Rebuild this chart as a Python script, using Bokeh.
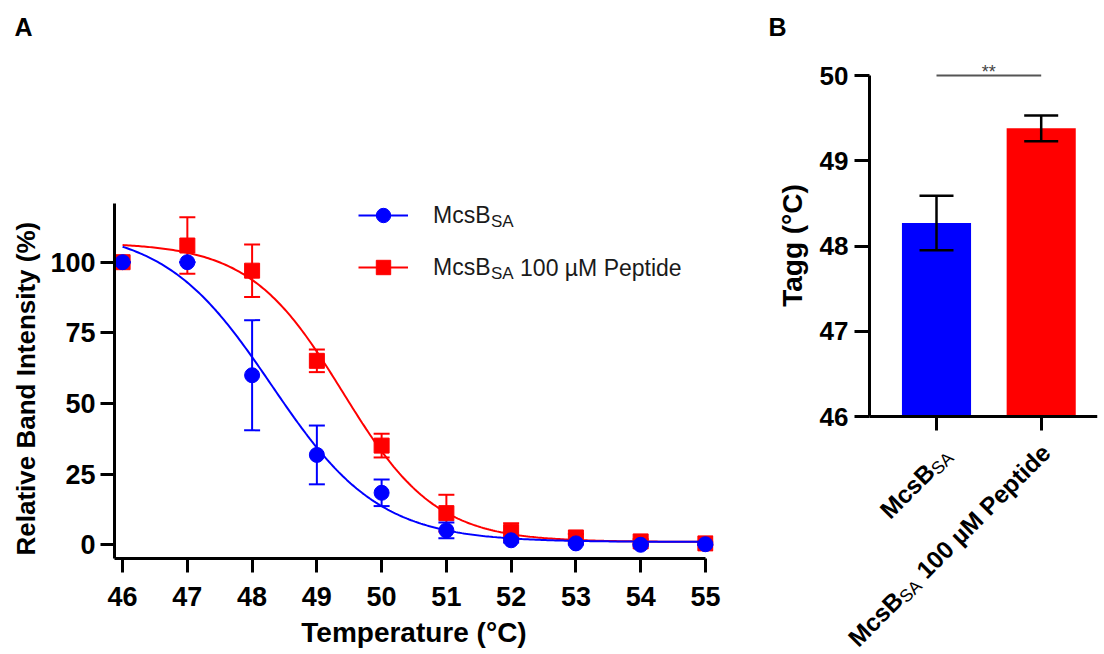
import math
import numpy as np
from bokeh.plotting import figure
from bokeh.layouts import row
from bokeh.models import Legend, LegendItem, Label, FixedTicker, Range1d, Title
from bokeh.embed import file_html
from bokeh.resources import INLINE

# ---------------- data: panel A (thermal shift curves) ----------------
temperature = [46, 47, 48, 49, 50, 51, 52, 53, 54, 55]
mcsb_mean = [100.0, 100.0, 60.0, 31.8, 18.4, 5.1, 1.6, 0.5, 0.0, 0.2]
mcsb_err = [0.0, 0.0, 19.5, 10.4, 4.7, 2.8, 0.8, 0.4, 0.3, 0.3]
pep_mean = [100.0, 105.9, 97.0, 65.1, 35.1, 11.2, 4.5, 2.6, 1.2, 0.5]
pep_err = [0.0, 10.0, 9.3, 4.0, 4.2, 6.5, 3.1, 1.2, 0.8, 0.6]

# Boltzmann sigmoid fit parameters (top, bottom, V50, slope)
mcsb_fit = (112.0, 1.0, 48.3, 0.83)
pep_fit = (107.0, 1.0, 49.4, 0.72)

y_ticks_a = [0, 25, 50, 75, 100]

# ---------------- data: panel B (Tagg) ----------------
groups = ["McsB_SA", "McsB_SA 100 µM Peptide"]
tagg_mean = [48.27, 49.38]
tagg_err = [0.32, 0.15]
y_ticks_b = [46, 47, 48, 49, 50]
significance = "**"

BLUE = "#0000FF"
RED = "#FF0000"
FONT = "Liberation Sans"

REG_W = {" ": 278, "0": 556, "1": 556, "M": 833, "c": 500, "s": 500, "B": 667, "S": 667,
         "A": 667, "µ": 575, "P": 667, "e": 556, "p": 556, "t": 278, "i": 222, "d": 556}
BOLD_W = {" ": 278, "0": 556, "1": 556, "M": 833, "c": 556, "s": 556, "B": 722, "S": 667,
          "A": 722, "µ": 611, "P": 667, "e": 556, "p": 611, "t": 333, "i": 278, "d": 611}


def text_w(s, size, bold):
    tab = BOLD_W if bold else REG_W
    return sum(tab.get(ch, 556) for ch in s) / 1000.0 * size


def boltzmann(t, top, bottom, v50, slope):
    return bottom + (top - bottom) / (1.0 + np.exp((t - v50) / slope))


def style_axis(ax, label_size):
    ax.axis_line_width = 3
    ax.axis_line_color = "black"
    ax.major_tick_line_width = 3
    ax.major_tick_line_color = "black"
    ax.major_tick_out = 14
    ax.major_tick_in = 0
    ax.minor_tick_line_color = None
    ax.major_label_text_font = FONT
    ax.major_label_text_font_style = "bold"
    ax.major_label_text_font_size = f"{label_size}px"
    ax.major_label_text_color = "black"
    ax.axis_label_text_font = FONT
    ax.axis_label_text_font_style = "bold"
    ax.axis_label_text_color = "black"


def style_fig(p):
    p.outline_line_color = None
    p.grid.visible = False
    p.background_fill_color = "white"
    p.border_fill_color = "white"
    if "frame_align" in p.properties():
        p.frame_align = False


def panel_title(p, text, offset):
    p.title.text = text
    p.title.align = "left"
    p.title.offset = offset
    p.title.standoff = 0
    p.title.vertical_align = "bottom"
    p.title.text_font = FONT
    p.title.text_font_size = "25px"
    p.title.text_font_style = "bold"
    p.title.text_color = "black"


# ======================= Panel A =======================
A_W, A_H = 725, 654
A_LEFT, A_RIGHT, A_TOP, A_BOTTOM = 114, 12, 40, 96
xa0, xa1 = 45.875, 55.125
ya0 = -4.85
ya_axis_top = 120.8
A_PX_Y = 2.826
ya1 = ya0 + (A_H - A_TOP - A_BOTTOM) / A_PX_Y

pA = figure(width=A_W, height=A_H, output_backend="svg", toolbar_location=None,
            x_range=Range1d(xa0, xa1), y_range=Range1d(ya0, ya1),
            min_border_left=A_LEFT, min_border_right=A_RIGHT,
            min_border_top=A_TOP, min_border_bottom=A_BOTTOM,
            x_axis_label="Temperature (°C)")
style_fig(pA)
panel_title(pA, "A", 14 - A_LEFT)

style_axis(pA.xaxis[0], 27)
style_axis(pA.yaxis[0], 27)
pA.xaxis.axis_label_text_font_size = "28px"
pA.xaxis.ticker = FixedTicker(ticks=temperature)
pA.xaxis.bounds = (xa0, temperature[-1])
pA.xaxis.major_label_standoff = 14
pA.xaxis.axis_label_standoff = 8
pA.yaxis.ticker = FixedTicker(ticks=y_ticks_a)
pA.yaxis.bounds = (ya0, ya_axis_top)
pA.yaxis.major_label_standoff = 5

pA.add_layout(Title(text="Relative Band Intensity (%)", align="left", offset=3, standoff=14,
                    vertical_align="bottom", text_font=FONT, text_font_size="26px",
                    text_font_style="bold", text_color="black"), "left")

t_fit = np.linspace(temperature[0], temperature[-1], 300)


def draw_series(p, mean, err, fit, color, marker):
    m = np.array(mean)
    e = np.array(err)
    ln = p.line(t_fit, boltzmann(t_fit, *fit), line_color=color, line_width=2)
    p.segment(x0=temperature, y0=m - e, x1=temperature, y1=m + e, line_color=color, line_width=2)
    p.scatter(temperature, m + e, marker="dash", size=16, line_color=color, line_width=2)
    p.scatter(temperature, m - e, marker="dash", size=16, line_color=color, line_width=2)
    sc = p.scatter(temperature, m, marker=marker, size=15, fill_color=color, line_color=color)
    return ln, sc


red_line, red_pts = draw_series(pA, pep_mean, pep_err, pep_fit, RED, "square")
blue_line, blue_pts = draw_series(pA, mcsb_mean, mcsb_err, mcsb_fit, BLUE, "circle")

A_FRAME_BOTTOM = A_H - A_BOTTOM
LEG_X, LEG_TOP = 358, 197
GLYPH_H, LEG_SP = 36, 16
legend = Legend(items=[LegendItem(label="McsB", renderers=[blue_line, blue_pts]),
                       LegendItem(label="McsB", renderers=[red_line, red_pts])],
                location=(LEG_X - A_LEFT, A_FRAME_BOTTOM - (LEG_TOP + 2 * GLYPH_H + LEG_SP)),
                orientation="vertical", padding=0, spacing=LEG_SP, margin=0,
                glyph_width=50, glyph_height=GLYPH_H, label_height=GLYPH_H, label_standoff=25,
                label_text_font=FONT, label_text_font_size="23px", label_text_color="#1a1a1a",
                border_line_color=None, background_fill_alpha=0)
pA.add_layout(legend)


def label_a(text, cx, cy, size, bold=False, align="left", baseline="middle", color="#1a1a1a"):
    pA.add_layout(Label(x=xa0, y=ya0, x_offset=cx - A_LEFT, y_offset=A_FRAME_BOTTOM - cy,
                        text=text, text_font=FONT, text_font_size=f"{size}px",
                        text_font_style="bold" if bold else "normal",
                        text_align=align, text_baseline=baseline, text_color=color))


leg_text_x = LEG_X + 50 + 25
sub_x = leg_text_x + text_w("McsB", 23, False)
rest_x = sub_x + text_w("SA", 17, False) + text_w(" ", 23, False)
row1_c = LEG_TOP + GLYPH_H / 2
row2_c = LEG_TOP + GLYPH_H + LEG_SP + GLYPH_H / 2
label_a("SA", sub_x, row1_c + 6, 17)
label_a("SA", sub_x, row2_c + 6, 17)
label_a("100 µM Peptide", rest_x, row2_c, 23)

# ======================= Panel B =======================
B_W, B_H = 1104 - A_W, 654
B_X0 = A_W                         # canvas x of panel B's left edge
B_LEFT, B_RIGHT, B_TOP, B_BOTTOM = 50, 7, 40, 3
B_FRAME_L = B_X0 + B_LEFT          # canvas px
B_FRAME_R = 1104 - B_RIGHT
B_FRAME_B = B_H - B_BOTTOM
B_PX_X = 104.7
B_PX_Y = 85.25
TICK1_PX, AXIS_X_PX, Y50_PX = 936, 869, 75
pos = [i + 1 for i in range(len(groups))]
xb0 = pos[0] - (TICK1_PX - B_FRAME_L) / B_PX_X
xb1 = xb0 + (B_FRAME_R - B_FRAME_L) / B_PX_X
yaxis_x_b = pos[0] - (TICK1_PX - AXIS_X_PX) / B_PX_X
yb1 = y_ticks_b[-1] + (Y50_PX - B_TOP) / B_PX_Y
yb0 = yb1 - (B_FRAME_B - B_TOP) / B_PX_Y

pB = figure(width=B_W, height=B_H, output_backend="svg", toolbar_location=None,
            x_range=Range1d(xb0, xb1), y_range=Range1d(yb0, yb1),
            min_border_left=B_LEFT, min_border_right=B_RIGHT,
            min_border_top=B_TOP, min_border_bottom=B_BOTTOM)
style_fig(pB)
panel_title(pB, "B", 768 - B_FRAME_L)

style_axis(pB.xaxis[0], 26)
style_axis(pB.yaxis[0], 26)
pB.yaxis.ticker = FixedTicker(ticks=y_ticks_b)
pB.yaxis.bounds = (y_ticks_b[0], y_ticks_b[-1])
pB.yaxis.fixed_location = yaxis_x_b
pB.yaxis.major_label_standoff = 6
pB.yaxis.major_tick_out = 15
pB.xaxis.ticker = FixedTicker(ticks=pos)
pB.xaxis.fixed_location = y_ticks_b[0]
pB.xaxis.bounds = (yaxis_x_b, xb1)
pB.xaxis.major_label_overrides = {p: "" for p in pos}
pB.xaxis.major_label_text_font_size = "1px"
pB.xaxis.major_label_standoff = 0
pB.xaxis.major_tick_out = 0
pB.xaxis.major_tick_in = -14

bars_m = np.array(tagg_mean)
bars_e = np.array(tagg_err)
pB.vbar(x=pos, top=tagg_mean, bottom=y_ticks_b[0], width=0.66,
        fill_color=[BLUE, RED], line_color=None)
pB.segment(x0=pos, y0=bars_m - bars_e, x1=pos, y1=bars_m + bars_e, line_color="black", line_width=2.5)
pB.scatter(pos, bars_m + bars_e, marker="dash", size=34, line_color="black", line_width=2.5)
pB.scatter(pos, bars_m - bars_e, marker="dash", size=34, line_color="black", line_width=2.5)

# significance bracket
pB.segment(x0=[pos[0]], y0=[y_ticks_b[-1]], x1=[pos[1]], y1=[y_ticks_b[-1]],
           line_color="#555555", line_width=2)
pB.add_layout(Label(x=(pos[0] + pos[1]) / 2, y=y_ticks_b[-1], y_offset=4, text=significance,
                    text_font=FONT, text_font_size="18px", text_color="#444444",
                    text_align="center", text_baseline="alphabetic"))

# y-axis title of panel B (inside frame)
pB.add_layout(Label(x=xb0, y=yb0, x_offset=792 - B_FRAME_L, y_offset=B_FRAME_B - 245,
                    text="Tagg (°C)", angle=math.pi / 2, text_font=FONT, text_font_size="28px",
                    text_font_style="bold", text_color="black",
                    text_align="center", text_baseline="middle"))

# rotated category labels with subscripts
ang = math.radians(45)
ux, uy = math.cos(ang), -math.sin(ang)      # along text (screen, y down)
vx, vy = math.sin(ang), math.cos(ang)       # "down" in text frame
SUB_SHIFT = 5
CAT_FS, SUB_FS = 24.5, 17.5


def rotated_label(xdata, pieces, end_dx, end_dy):
    acc = 0.0
    for text, size, bold, sub, gap in reversed(pieces):
        sh = SUB_SHIFT if sub else 0
        sx = end_dx - acc * ux + sh * vx
        sy = end_dy - acc * uy + sh * vy
        pB.add_layout(Label(x=xdata, y=y_ticks_b[0], x_offset=sx, y_offset=-sy, text=text,
                            angle=ang, text_align="right", text_baseline="alphabetic",
                            text_font=FONT, text_font_size=f"{size}px",
                            text_font_style="bold" if bold else "normal", text_color="black"))
        acc += text_w(text, size, bold) + gap


space_b = text_w(" ", CAT_FS, True)
rotated_label(pos[0], [("McsB", CAT_FS, True, False, 0), ("SA", SUB_FS, False, True, 0)], 10.5, 35)
rotated_label(pos[1], [("McsB", CAT_FS, True, False, 0), ("SA", SUB_FS, False, True, 0),
                       ("100 µM Peptide", CAT_FS, True, False, space_b)], 5, 32)

layout = row(pA, pB)
open("out.html", "w").write(file_html(layout, INLINE))
